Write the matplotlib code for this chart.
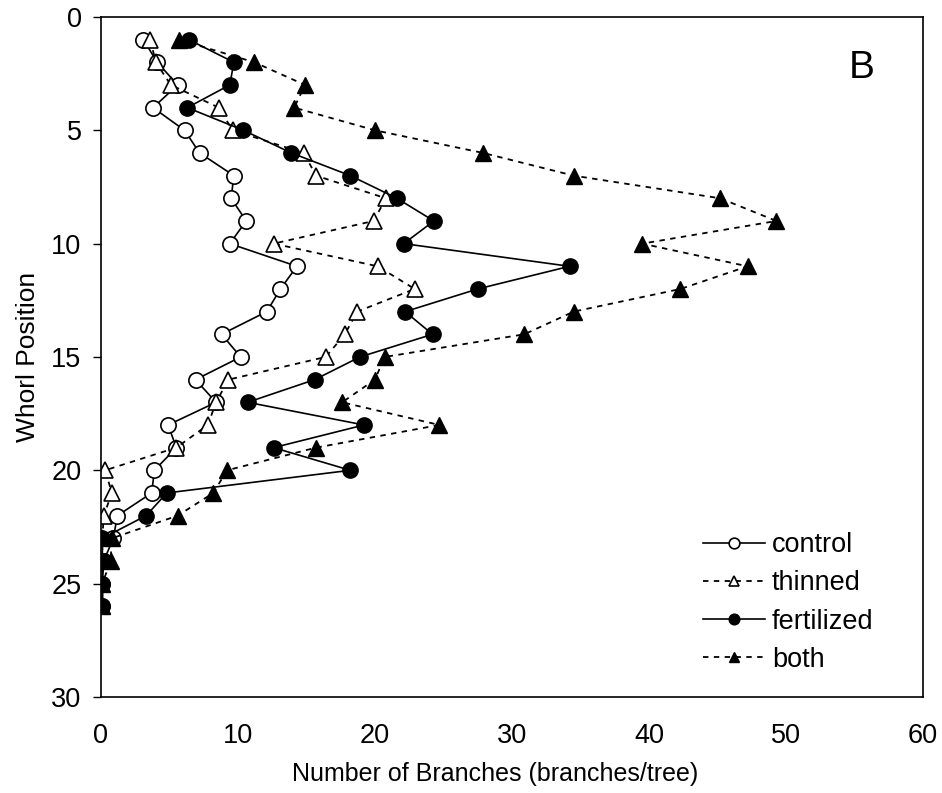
import matplotlib
matplotlib.use("Agg")
import matplotlib.pyplot as plt

plt.rcParams['font.family'] = ['Liberation Sans', 'DejaVu Sans']

whorl = list(range(1, 27))

control = [3.1, 4.1, 5.6, 3.8, 6.1, 7.2, 9.7, 9.5, 10.6, 9.4,
           14.3, 13.1, 12.1, 8.8, 10.2, 6.9, 8.4, 4.9, 5.5, 3.9,
           3.7, 1.2, 0.9, 0.2, 0.1, 0.1]
thinned = [3.6, 4.0, 5.1, 8.6, 9.6, 14.8, 15.7, 20.8, 19.9, 12.6,
           20.2, 22.9, 18.7, 17.8, 16.4, 9.3, 8.4, 7.8, 5.5, 0.3,
           0.8, 0.2, 0.1, 0.1, 0.1, 0.1]
fertilized = [6.4, 9.7, 9.4, 6.3, 10.4, 13.9, 18.2, 21.6, 24.3, 22.1,
              34.2, 27.5, 22.2, 24.2, 18.9, 15.6, 10.7, 19.2, 12.6, 18.2,
              4.8, 3.3, 0.1, 0.1, 0.1, 0.1]
both = [5.7, 11.2, 14.9, 14.1, 20.0, 27.9, 34.5, 45.2, 49.3, 39.5,
        47.2, 42.3, 34.5, 30.9, 20.7, 20.0, 17.6, 24.7, 15.7, 9.2,
        8.2, 5.6, 0.8, 0.7, 0.1, 0.1]

fig = plt.figure(figsize=(9.42, 7.93), dpi=100)
ax = fig.add_axes([0.1072, 0.1211, 0.8726, 0.8575])

dash = (0, (3, 3))
ax.plot(control, whorl, color='black', lw=1.2, marker='o', ms=11,
        mfc='white', mec='black', mew=1.2, label='control')
ax.plot(thinned, whorl, color='black', lw=1.3, ls=dash, marker='^', ms=11,
        mfc='white', mec='black', mew=1.2, label='thinned')
ax.plot(fertilized, whorl, color='black', lw=1.2, marker='o', ms=11,
        mfc='black', mec='black', label='fertilized')
ax.plot(both, whorl, color='black', lw=1.3, ls=dash, marker='^', ms=11,
        mfc='black', mec='black', label='both')

ax.set_xlim(0, 60)
ax.set_ylim(30, 0)
ax.set_xticks(range(0, 61, 10))
ax.set_yticks(range(0, 31, 5))
ax.tick_params(axis='x', length=0, pad=19, labelsize=19.5)
ax.tick_params(axis='y', direction='out', length=6, width=1, pad=8, labelsize=19.5)
for s in ax.spines.values():
    s.set_linewidth(1.2)

ax.set_xlabel("Number of Branches (branches/tree)", fontsize=18, labelpad=8)
ax.xaxis.set_label_coords(0.479, -0.095)
ax.set_ylabel("Whorl Position", fontsize=19, labelpad=8)

ax.text(0.925, 0.925, "B", transform=ax.transAxes, fontsize=28,
        ha='center', va='center')

ax.legend(loc='center left', bbox_to_anchor=(0.732, 0.139), frameon=False,
          fontsize=19.5, handlelength=2.3, handletextpad=0.26,
          labelspacing=0.45, borderpad=0, borderaxespad=0, markerscale=0.7)

fig.savefig("out.png", dpi=100)
